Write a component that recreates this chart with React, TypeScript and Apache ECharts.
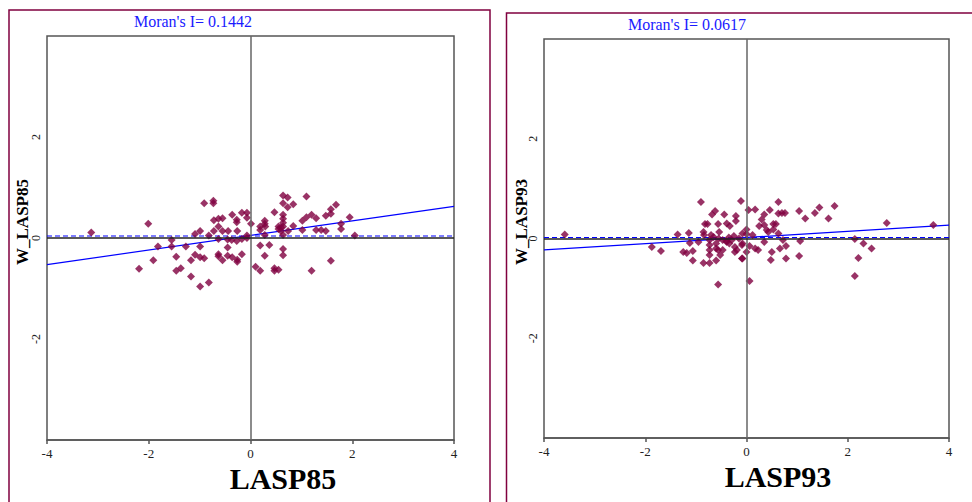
import React, { useEffect, useRef } from "react";
import * as echarts from "echarts";

// ---- Data ----
const lasp85: number[] = [
  -3.13, -2.01, -0.91, -0.73, -0.73, -0.36, -0.17, -0.07, -0.27, -0.27, -0.07, -0.72, -0.63, -0.63, -0.55,
  -0.72, -0.55, -0.44, -0.26, -0.99, -1.09, -0.82, -1.55, -1.55, -1.82, -1.27, -0.99, -0.63, -0.45, -0.45,
  -0.17, -0.07, -0.07, -1.91, -2.19, -1.46, -1.46, -1.37, -1.17, -1.09, -0.99, -0.91, -1.17, -0.99, -0.82,
  -0.63, -0.63, -0.55, -0.45, -0.36, -0.26, -0.26, -0.17, -0.37, -0.27,
  0.01, 0.19, 0.19, 0.28, 0.28, 0.29, 0.28, 0.47, 0.55, 0.55, 0.6, 0.6, 0.64, 0.73, 0.64, 0.73, 0.84, 0.64,
  0.64, 0.64, 0.64, 0.64, 0.74, 0.84, 1.02, 1.02, 1.1, 1.1, 1.2, 1.29, 1.29, 1.39, 1.48, 1.48, 1.58, 1.58,
  1.68, 1.78, 1.78, 1.95, 2.05, 0.19, 0.37, 0.28, 0.64, 0.64, 0.1, 0.19, 0.47, 0.47, 0.55, 1.2, 1.58,
];
const wLasp85: number[] = [
  0.11, 0.28, 0.69, 0.74, 0.69, 0.46, 0.5, 0.5, 0.36, 0.31, 0.4, 0.35, 0.38, 0.23, 0.39,
  0.14, 0.14, 0.14, 0.14, 0.14, 0.08, 0.05, -0.04, -0.17, -0.17, -0.17, -0.17, -0.02, -0.03, -0.19,
  -0.02, 0.05, 0.0, -0.44, -0.61, -0.37, -0.65, -0.6, -0.44, -0.33, -0.38, -0.4, -0.76, -0.96, -0.88,
  -0.32, -0.36, -0.44, -0.35, -0.38, -0.43, -0.47, -0.32, -0.04, -0.06,
  0.28, 0.23, 0.16, 0.34, 0.28, 0.23, 0.06, 0.51, 0.23, 0.18, 0.21, 0.14, 0.84, 0.8, 0.69, 0.61, 0.67, 0.46,
  0.38, 0.3, 0.23, 0.06, 0.14, 0.24, 0.34, 0.16, 0.82, 0.41, 0.46, 0.39, 0.16, 0.16, 0.14, 0.44, 0.57, 0.48,
  0.66, 0.28, 0.18, 0.41, 0.05, -0.15, -0.14, -0.35, -0.22, -0.34, -0.57, -0.65, -0.6, -0.65, -0.63, -0.65, -0.45,
];

const lasp93: number[] = [
  -3.59, -0.9, -0.11, 0.04, -0.62, -0.68, -0.44, -0.21, -0.21, -0.82, -0.77, -0.56, -0.39, -0.33, -0.54,
  -0.85, -0.84, -0.7, -1.14, -1.36, -0.08, -1.12, -0.95, -1.87, -1.69, -1.25, -1.18, -1.06, -1.06, -0.85,
  -0.73, -0.73, -0.73, -0.73, -0.73, -0.6, -0.6, -0.56, -0.6, -0.52, -0.47, -0.39, -0.34, -0.29, -0.47,
  -0.23, -0.23, -0.19, -0.09, -0.09, -0.56, 0.06, -0.35, -0.25, -0.15, -0.4, -0.55, -0.65,
  0.17, 0.63, 0.46, 0.35, 0.3, 0.63, 0.7, 0.76, 1.04, 1.16, 1.35, 1.44, 1.62, 1.74, 2.77, 3.69,
  0.25, 0.35, 0.4, 0.53, 0.53, 0.58, 0.0, 0.0, 0.12, 0.43, 0.63, -0.08, 0.06, 0.0, -0.08, 0.17, 0.23,
  0.35, 0.5, 0.48, 0.66, 0.72, 0.78, 0.78, 1.06, 1.04, 2.14, 2.31, 2.47, 2.21, 2.14,
];
const wLasp93: number[] = [
  0.08, 0.73, 0.75, 0.57, 0.55, 0.48, 0.48, 0.45, 0.35, 0.29, 0.29, 0.29, 0.3, 0.25, 0.13,
  0.13, 0.07, 0.07, 0.11, 0.08, 0.1, -0.09, -0.07, -0.17, -0.25, -0.27, -0.29, -0.25, -0.44, -0.49,
  -0.03, -0.13, -0.23, -0.33, -0.49, -0.1, -0.2, -0.23, -0.44, -0.33, -0.03, -0.07, -0.1, -0.03, -0.23,
  -0.17, -0.27, -0.23, -0.13, -0.4, -0.92, -0.85, 0.02, 0.05, 0.0, -0.05, 0.0, 0.03,
  0.58, 0.73, 0.57, 0.48, 0.38, 0.5, 0.51, 0.51, 0.55, 0.4, 0.51, 0.62, 0.4, 0.65, 0.31, 0.27,
  0.25, 0.27, 0.17, 0.18, 0.29, 0.29, 0.18, 0.09, 0.07, 0.13, 0.1, -0.1, -0.15, -0.27, -0.4, -0.2, -0.23,
  -0.07, -0.27, -0.43, -0.2, -0.03, -0.15, -0.4, -0.05, -0.35, -0.01, -0.1, -0.2, -0.39, -0.75,
];

// Regression / summary values
const moranI85 = 0.1442;
const intercept85 = 0.05;
const meanW85 = 0.04;
const moranI93 = 0.0617;
const intercept93 = 0.02;
const meanW93 = 0.02;

const axisTicks = [-4, -2, 0, 2, 4];

const SERIF = "'Liberation Serif', 'Times New Roman', serif";
const MAROON = "#800040";
const BLUE = "#0000ff";

export default function App() {
  const ref = useRef<HTMLDivElement>(null);

  useEffect(() => {
    if (!ref.current) return;
    const chart = echarts.init(ref.current, null, { renderer: "svg" });

    const grids = [
      { left: 47, top: 36, width: 407, height: 404 },
      { left: 544, top: 39, width: 405, height: 399 },
    ];

    const mkX = (gi: number) => ({
      type: "value",
      gridIndex: gi,
      min: axisTicks[0],
      max: axisTicks[axisTicks.length - 1],
      interval: 2,
      splitLine: { show: false },
      axisLine: { show: true, onZero: false, lineStyle: { color: "#555", width: 1.5 } },
      axisTick: { show: true, length: 4, lineStyle: { color: "#555", width: 1.5 } },
      axisLabel: { color: "#222", fontFamily: SERIF, fontSize: 13, margin: 7 },
    });
    const mkY = (gi: number) => ({
      type: "value",
      gridIndex: gi,
      min: axisTicks[0],
      max: axisTicks[axisTicks.length - 1],
      interval: 2,
      splitLine: { show: false },
      axisLine: { show: false },
      axisTick: { show: false },
      axisLabel: {
        color: "#222",
        fontFamily: SERIF,
        fontSize: 12,
        rotate: 90,
        margin: 5,
        showMinLabel: false,
        showMaxLabel: false,
      },
    });

    const zeroLines = {
      silent: true,
      symbol: "none",
      label: { show: false },
      data: [
        { xAxis: 0, lineStyle: { color: "#666", width: 1.5, type: "solid" } },
        { yAxis: 0, lineStyle: { color: "#222", width: 1.5, type: "solid" } },
      ],
    };

    const mkSeries = (gi: number, xs: number[], ys: number[], slope: number, b: number, mean: number) => [
      {
        type: "line",
        xAxisIndex: gi,
        yAxisIndex: gi,
        data: [],
        markLine: zeroLines,
        silent: true,
      },
      {
        type: "line",
        xAxisIndex: gi,
        yAxisIndex: gi,
        showSymbol: false,
        symbol: "none",
        data: [
          [axisTicks[0], mean],
          [axisTicks[axisTicks.length - 1], mean],
        ],
        lineStyle: { color: BLUE, width: 1.2, type: [5, 3] },
        silent: true,
        z: 3,
      },
      {
        type: "line",
        xAxisIndex: gi,
        yAxisIndex: gi,
        showSymbol: false,
        symbol: "none",
        data: [
          [axisTicks[0], b + slope * axisTicks[0]],
          [axisTicks[axisTicks.length - 1], b + slope * axisTicks[axisTicks.length - 1]],
        ],
        lineStyle: { color: BLUE, width: 1.2 },
        silent: true,
        z: 3,
      },
      {
        type: "scatter",
        xAxisIndex: gi,
        yAxisIndex: gi,
        symbol: "diamond",
        symbolSize: 8,
        itemStyle: { color: MAROON },
        data: xs.map((x, i) => [x, ys[i]]),
        z: 4,
      },
    ];

    const txt = (
      x: number,
      y: number,
      text: string,
      size: number,
      weight: string,
      fill: string,
      rotation = 0
    ) => ({
      type: "text",
      x,
      y,
      rotation,
      style: {
        text,
        fill,
        fontFamily: SERIF,
        fontSize: size,
        fontWeight: weight,
        align: "center",
        verticalAlign: "middle",
      },
    });

    chart.setOption({
      animation: false,
      backgroundColor: "#ffffff",
      grid: grids.map((g) => ({ ...g, show: true, borderColor: "#555", borderWidth: 1.5, backgroundColor: "transparent" })),
      xAxis: [mkX(0), mkX(1)],
      yAxis: [mkY(0), mkY(1)],
      series: [
        ...mkSeries(0, lasp85, wLasp85, moranI85, intercept85, meanW85),
        ...mkSeries(1, lasp93, wLasp93, moranI93, intercept93, meanW93),
      ],
      graphic: [
        {
          type: "rect",
          shape: { x: 9, y: 10, width: 481, height: 500 },
          style: { fill: "none", stroke: "#80003f", lineWidth: 1.5 },
          silent: true,
        },
        {
          type: "rect",
          shape: { x: 506.5, y: 13, width: 480, height: 500 },
          style: { fill: "none", stroke: "#80003f", lineWidth: 1.5 },
          silent: true,
        },
        txt(193, 21, "Moran's I= " + moranI85.toFixed(4), 16, "normal", "#1a1aff"),
        txt(687, 24, "Moran's I= " + moranI93.toFixed(4), 16, "normal", "#1a1aff"),
        txt(283, 478, "LASP85", 30, "bold", "#000"),
        txt(778, 476, "LASP93", 30, "bold", "#000"),
        txt(22, 222, "W_LASP85", 17, "bold", "#000", Math.PI / 2),
        txt(521, 222, "W_LASP93", 17, "bold", "#000", Math.PI / 2),
      ],
    });

    return () => chart.dispose();
  }, []);

  return (
    <div
      ref={ref}
      style={{ position: "fixed", left: 0, top: 0, width: 972, height: 502, background: "#fff" }}
    />
  );
}
